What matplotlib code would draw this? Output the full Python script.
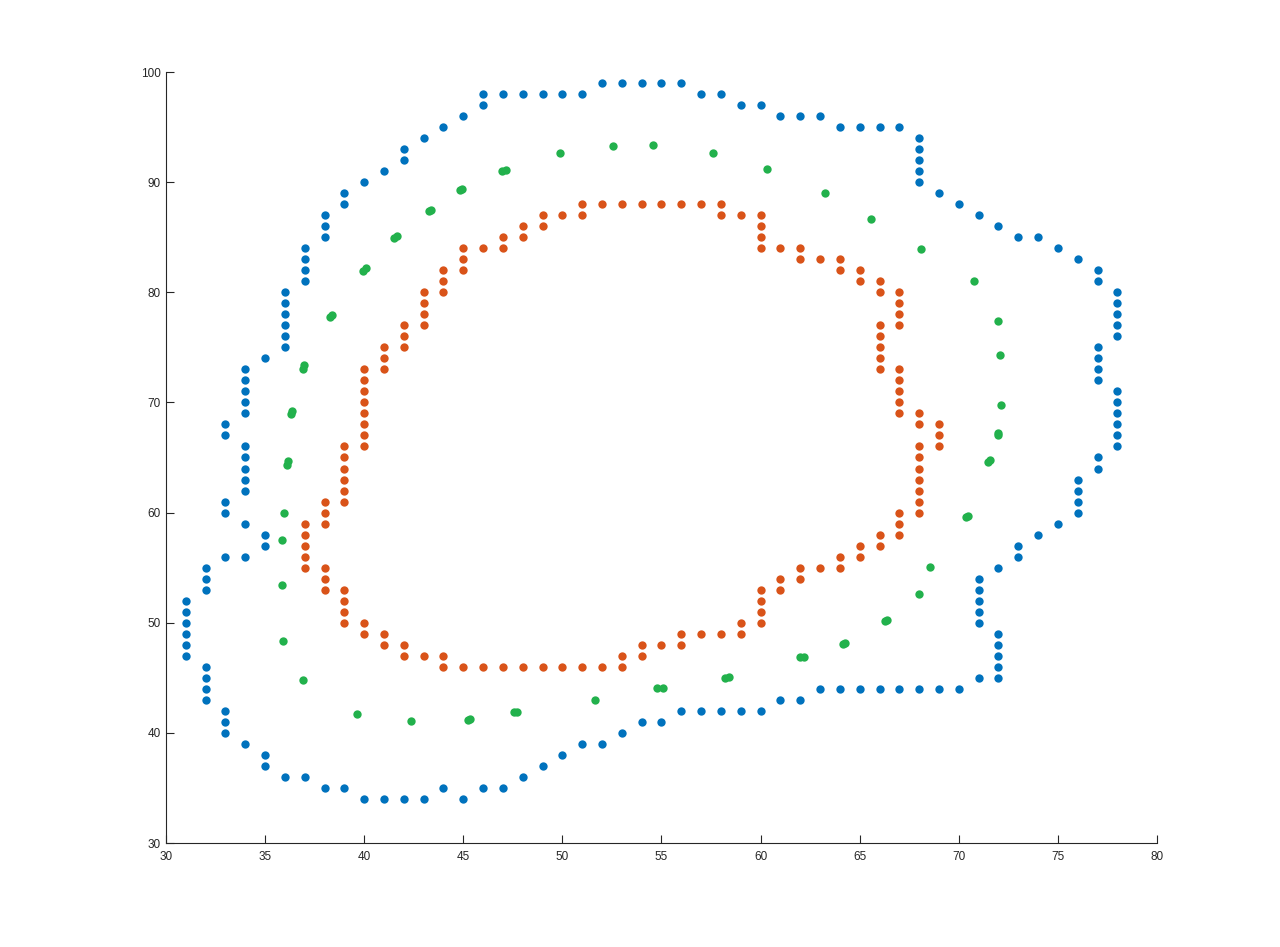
import matplotlib
matplotlib.use("Agg")
import matplotlib.pyplot as plt
import numpy as np

# ---------------- data ----------------
# Blue series: outer contour (x column -> list of y values)
blue_cols = {
    31: [47, 48, 49, 50, 51, 52],
    32: [43, 44, 45, 46, 53, 54, 55],
    33: [40, 41, 42, 56, 60, 61, 67, 68],
    34: [39, 56, 59, 62, 63, 64, 65, 66, 69, 70, 71, 72, 73],
    35: [37, 38, 57, 58, 74],
    36: [36, 75, 76, 77, 78, 79, 80],
    37: [36, 81, 82, 83, 84],
    38: [35, 85, 86, 87],
    39: [35, 88, 89],
    40: [34, 90],
    41: [34, 91],
    42: [34, 92, 93],
    43: [34, 94],
    44: [35, 95],
    45: [34, 96],
    46: [35, 97, 98],
    47: [35, 98],
    48: [36, 98],
    49: [37, 98],
    50: [38, 98],
    51: [39, 98],
    52: [39, 99],
    53: [40, 99],
    54: [41, 99],
    55: [41, 99],
    56: [42, 99],
    57: [42, 98],
    58: [42, 98],
    59: [42, 97],
    60: [42, 97],
    61: [43, 96],
    62: [43, 96],
    63: [44, 96],
    64: [44, 95],
    65: [44, 95],
    66: [44, 95],
    67: [44, 95],
    68: [44, 90, 91, 92, 93, 94],
    69: [44, 89],
    70: [44, 88],
    71: [45, 50, 51, 52, 53, 54, 87],
    72: [45, 46, 47, 48, 49, 55, 86],
    73: [56, 57, 85],
    74: [58, 85],
    75: [59, 84],
    76: [60, 61, 62, 63, 83],
    77: [64, 65, 72, 73, 74, 75, 81, 82],
    78: [66, 67, 68, 69, 70, 71, 76, 77, 78, 79, 80],
}

# Orange series: inner contour
orange_cols = {
    37: [55, 56, 57, 58, 59],
    38: [53, 54, 55, 59, 60, 61],
    39: [50, 51, 52, 53, 61, 62, 63, 64, 65, 66],
    40: [49, 50, 66, 67, 68, 69, 70, 71, 72, 73],
    41: [48, 49, 73, 74, 75],
    42: [47, 48, 75, 76, 77],
    43: [47, 77, 78, 79, 80],
    44: [46, 47, 80, 81, 82],
    45: [46, 82, 83, 84],
    46: [46, 84],
    47: [46, 84, 85],
    48: [46, 85, 86],
    49: [46, 86, 87],
    50: [46, 87],
    51: [46, 87, 88],
    52: [46, 88],
    53: [46, 47, 88],
    54: [47, 48, 88],
    55: [48, 88],
    56: [48, 49, 88],
    57: [49, 88],
    58: [49, 87, 88],
    59: [49, 50, 87],
    60: [50, 51, 52, 53, 84, 85, 86, 87],
    61: [53, 54, 84],
    62: [54, 55, 83, 84],
    63: [55, 83],
    64: [55, 56, 82, 83],
    65: [56, 57, 81, 82],
    66: [57, 58, 73, 74, 75, 76, 77, 80, 81],
    67: [58, 59, 60, 69, 70, 71, 72, 73, 77, 78, 79, 80],
    68: [60, 61, 62, 63, 64, 65, 66, 68, 69],
    69: [66, 67, 68],
}

# Green series: middle contour (non-integer points; close pairs form blobs)
green_x = [35.87, 35.97, 36.09, 36.16, 36.31, 36.37, 36.91, 36.97, 38.27, 38.39,
           39.94, 40.11, 41.49, 41.66, 43.25, 43.35, 44.81, 44.94, 46.95, 47.15,
           49.89, 52.57, 54.59, 57.61, 60.34, 63.26, 65.59, 68.11, 70.78, 71.99,
           72.09, 72.14, 71.97, 72.00, 71.49, 71.56, 70.38, 70.44, 68.56, 68.01,
           66.26, 66.36, 64.15, 64.25, 61.97, 62.18, 58.20, 58.40, 54.79, 55.06,
           51.66, 47.56, 47.69, 45.25, 45.33, 42.35, 39.65, 36.93, 35.89, 35.84]
green_y = [57.48, 59.93, 64.35, 64.65, 68.94, 69.21, 73.08, 73.42, 77.79, 77.96,
           81.94, 82.21, 84.93, 85.07, 87.35, 87.45, 89.26, 89.39, 91.04, 91.11,
           92.62, 93.26, 93.35, 92.62, 91.17, 88.99, 86.63, 83.90, 81.00, 77.37,
           74.28, 69.74, 67.06, 67.19, 64.63, 64.77, 59.56, 59.69, 55.03, 52.58,
           50.16, 50.29, 48.09, 48.16, 46.86, 46.87, 45.01, 45.04, 44.05, 44.05,
           42.96, 41.86, 41.89, 41.21, 41.24, 41.05, 41.69, 44.77, 48.31, 53.40]

x_ticks = [30, 35, 40, 45, 50, 55, 60, 65, 70, 75, 80]
y_ticks = [30, 40, 50, 60, 70, 80, 90, 100]


def expand(cols):
    xs, ys = [], []
    for x, yl in cols.items():
        for y in yl:
            xs.append(x)
            ys.append(y)
    return xs, ys


bx, by = expand(blue_cols)
ox, oy = expand(orange_cols)

# ---------------- plot ----------------
plt.rcParams['font.family'] = ['Liberation Sans', 'DejaVu Sans']
fig = plt.figure(figsize=(12.8, 9.47), dpi=100)
ax = fig.add_axes([166 / 1280, 1 - 843 / 947, (1157 - 166) / 1280, (843 - 72) / 947])

ms = 36
ax.scatter(bx, by, s=ms, color='#0072BD', linewidths=0, zorder=3)
ax.scatter(ox, oy, s=ms, color='#D95319', linewidths=0, zorder=3)
ax.scatter(green_x, green_y, s=ms, color='#22B14C', linewidths=0, zorder=3)

ax.set_xlim(30, 80)
ax.set_ylim(30, 100)
ax.set_xticks(x_ticks)
ax.set_yticks(y_ticks)
ax.set_xticklabels([str(t) for t in x_ticks])
ax.set_yticklabels([str(t) for t in y_ticks])

for s in ['top', 'right']:
    ax.spines[s].set_visible(False)
for s in ['left', 'bottom']:
    ax.spines[s].set_color('#262626')
    ax.spines[s].set_linewidth(0.8)

ax.tick_params(direction='in', length=6, width=0.8, colors='#262626',
               labelsize=8.5, labelcolor='#262626')
ax.tick_params(axis='x', pad=6)
ax.tick_params(axis='y', pad=4)

fig.savefig('out.png', dpi=100, facecolor='white')
